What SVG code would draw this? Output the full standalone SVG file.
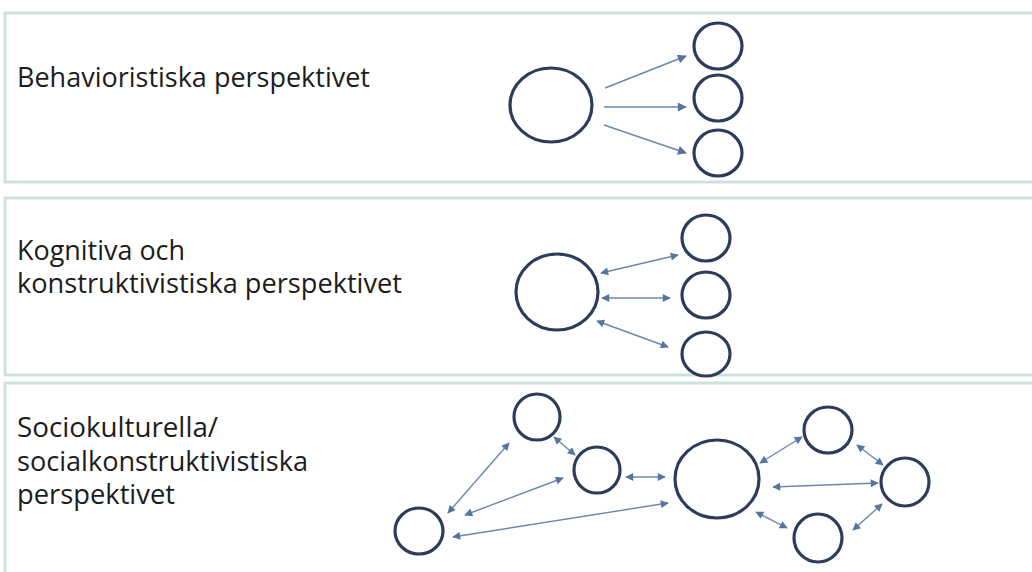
<svg xmlns="http://www.w3.org/2000/svg" width="1032" height="572" viewBox="0 0 1032 572">
  <defs>
    <marker id="ah" viewBox="0 0 10 10" refX="9" refY="5" markerWidth="9" markerHeight="8" markerUnits="userSpaceOnUse" orient="auto-start-reverse">
      <path d="M0,0 L10,5 L0,10 z" fill="#55759f"/>
    </marker>
    <marker id="ahs" viewBox="0 0 10 10" refX="9" refY="5" markerWidth="10" markerHeight="9" markerUnits="userSpaceOnUse" orient="auto-start-reverse">
      <path d="M0,0 L10,5 L0,10 z" fill="#55759f"/>
    </marker>
  </defs>
  <style>
    .box { fill: #ffffff; stroke: #cde2de; stroke-width: 3; }
    .lbl { font-family: "Open Sans", "Liberation Sans", sans-serif; font-size: 26.5px; fill: #1c1c1c; }
    .nd { fill: #ffffff; stroke: #2e3c5c; stroke-width: 3.2; }
    .one { stroke: #6b87aa; stroke-width: 1.4; fill: none; marker-end: url(#ahs); }
    .two { stroke: #6b87aa; stroke-width: 1.4; fill: none; marker-start: url(#ah); marker-end: url(#ah); }
  </style>
  <rect width="1032" height="572" fill="#ffffff"/>

  <g id="panel-behavior">
    <rect class="box" x="5" y="13" width="1040" height="169"/>
    <text class="lbl" x="17" y="87" textLength="353" lengthAdjust="spacingAndGlyphs">Behavioristiska perspektivet</text>
  </g>
  <g id="panel-cognitive">
    <rect class="box" x="5" y="198" width="1040" height="177"/>
    <text class="lbl" x="17" y="260" textLength="168" lengthAdjust="spacingAndGlyphs">Kognitiva och</text>
    <text class="lbl" x="17" y="293" textLength="385" lengthAdjust="spacingAndGlyphs">konstruktivistiska perspektivet</text>
  </g>
  <g id="panel-socio">
    <rect class="box" x="5" y="383" width="1040" height="200"/>
    <text class="lbl" x="17" y="437" textLength="201" lengthAdjust="spacingAndGlyphs">Sociokulturella/</text>
    <text class="lbl" x="17" y="471" textLength="291" lengthAdjust="spacingAndGlyphs">socialkonstruktivistiska</text>
    <text class="lbl" x="17" y="504" textLength="158" lengthAdjust="spacingAndGlyphs">perspektivet</text>
  </g>

  <g id="connectors">
    <!-- panel 1 -->
    <line class="one" x1="605" y1="88" x2="686" y2="56"/>
    <line class="one" x1="604" y1="107" x2="686" y2="107"/>
    <line class="one" x1="604" y1="125" x2="686" y2="153"/>
    <!-- panel 2 -->
    <line class="two" x1="601" y1="273" x2="678" y2="255"/>
    <line class="two" x1="602" y1="298" x2="670" y2="298"/>
    <line class="two" x1="597" y1="321" x2="668" y2="347"/>
    <!-- panel 3 -->
    <line class="two" x1="448" y1="513" x2="509" y2="443"/>
    <line class="two" x1="465" y1="515" x2="563" y2="478"/>
    <line class="two" x1="453" y1="537" x2="668" y2="503"/>
    <line class="two" x1="554" y1="437" x2="575" y2="455"/>
    <line class="two" x1="626" y1="477" x2="665" y2="477"/>
    <line class="two" x1="760" y1="463" x2="802" y2="437"/>
    <line class="two" x1="773" y1="487" x2="878" y2="483"/>
    <line class="two" x1="756" y1="512" x2="787" y2="528"/>
    <line class="two" x1="857" y1="445" x2="883" y2="465"/>
    <line class="two" x1="853" y1="530" x2="882" y2="504"/>
  </g>

  <g id="n1-source"><ellipse class="nd" cx="551" cy="105" rx="41" ry="37"/></g>
  <g id="n1-a"><ellipse class="nd" cx="718" cy="46" rx="24" ry="23"/></g>
  <g id="n1-b"><ellipse class="nd" cx="718" cy="98" rx="24" ry="23"/></g>
  <g id="n1-c"><ellipse class="nd" cx="718" cy="153" rx="24" ry="23"/></g>

  <g id="n2-center"><ellipse class="nd" cx="557" cy="292" rx="41" ry="38"/></g>
  <g id="n2-a"><ellipse class="nd" cx="706" cy="238" rx="24" ry="23"/></g>
  <g id="n2-b"><ellipse class="nd" cx="706" cy="295" rx="24" ry="23"/></g>
  <g id="n2-c"><ellipse class="nd" cx="706" cy="354" rx="24" ry="22"/></g>

  <g id="n3-a"><ellipse class="nd" cx="537" cy="417" rx="23" ry="23"/></g>
  <g id="n3-b"><ellipse class="nd" cx="597" cy="470" rx="23" ry="23"/></g>
  <g id="n3-c"><ellipse class="nd" cx="419" cy="531" rx="24" ry="23"/></g>
  <g id="n3-center"><ellipse class="nd" cx="717" cy="479" rx="42" ry="39"/></g>
  <g id="n3-e"><ellipse class="nd" cx="828" cy="430" rx="24" ry="23"/></g>
  <g id="n3-f"><ellipse class="nd" cx="905" cy="482" rx="24" ry="24"/></g>
  <g id="n3-g"><ellipse class="nd" cx="818" cy="538" rx="24" ry="24"/></g>
</svg>
